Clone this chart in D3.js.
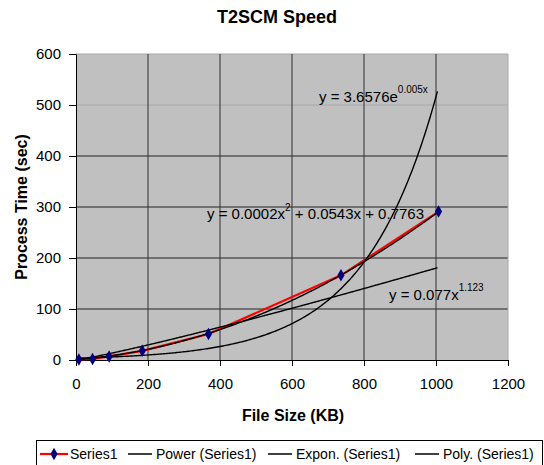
<!DOCTYPE html>
<html>
<head>
<meta charset="utf-8">
<script src="https://cdnjs.cloudflare.com/ajax/libs/d3/7.8.5/d3.min.js"></script>
<style>
	body { margin: 0; background: #fff; }
	text { font-family: "Liberation Sans", Arial, sans-serif; }
</style>
</head>
<body>
<div id="chart"></div>
<script>
// data
var fileSize = [8, 46, 92, 184, 368, 736, 1007];
var procTime = [1, 2, 7, 18, 51, 166, 291];
var xTicks = [0, 200, 400, 600, 800, 1000, 1200];
var yTicks = [0, 100, 200, 300, 400, 500, 600];
// trend line coefficients (unrounded estimates of the shown equations)
var powerCoef = [0.077, 1.123];
var exponCoef = [3.6576, 0.00495];
var polyCoef = [0.000232, 0.0543, 0.7763];

var width = 544, height = 465;
var svg = d3.select("#chart").append("svg")
	.attr("width", width)
	.attr("height", height);

var x = d3.scaleLinear().domain([0, 1200]).range([76, 508]);
var y = d3.scaleLinear().domain([0, 600]).range([360, 54]);

// plot area
svg.append("rect")
	.attr("x", x(0)).attr("y", y(600))
	.attr("width", x(1200) - x(0)).attr("height", y(0) - y(600))
	.attr("fill", "#c0c0c0");

// grid
svg.selectAll(".hgrid").data(yTicks.slice(1)).enter().append("line")
	.attr("x1", x(0)).attr("x2", x(1200))
	.attr("y1", function(d) { return y(d); }).attr("y2", function(d) { return y(d); })
	.attr("stroke", function(d) { return d >= 500 ? "#a8a8a8" : "#222"; })
	.attr("stroke-width", 1);
svg.selectAll(".vgrid").data(xTicks.slice(1)).enter().append("line")
	.attr("y1", y(0)).attr("y2", y(600))
	.attr("x1", function(d) { return x(d); }).attr("x2", function(d) { return x(d); })
	.attr("stroke", function(d) { return d == 1200 ? "#a8a8a8" : "#333"; })
	.attr("stroke-width", 1);

// axes
var xAxis = svg.append("g")
	.attr("transform", "translate(0," + y(0) + ")")
	.call(d3.axisBottom(x).tickValues(xTicks).tickFormat(d3.format("d")).tickSize(6).tickPadding(12));
var yAxis = svg.append("g")
	.attr("transform", "translate(" + x(0) + ",0)")
	.call(d3.axisLeft(y).tickValues(yTicks).tickFormat(d3.format("d")).tickSize(7).tickPadding(8));
[xAxis, yAxis].forEach(function(g) {
	g.selectAll("text").attr("font-size", "15px").attr("fill", "#000")
		.style("font-family", "Liberation Sans, Arial, sans-serif");
	g.selectAll("line, path").attr("stroke", "#000");
});

// trend lines
var samples = d3.range(fileSize[0], fileSize[fileSize.length - 1] + 1, 4);
var line = d3.line()
	.x(function(d) { return x(d[0]); })
	.y(function(d) { return y(d[1]); });
var trends = [
	samples.map(function(v) { return [v, powerCoef[0] * Math.pow(v, powerCoef[1])]; }),
	samples.map(function(v) { return [v, exponCoef[0] * Math.exp(exponCoef[1] * v)]; }),
	samples.map(function(v) { return [v, polyCoef[0] * v * v + polyCoef[1] * v + polyCoef[2]]; })
];

// series
var pts = fileSize.map(function(v, i) { return [v, procTime[i]]; });
svg.append("path")
	.attr("d", line(pts))
	.attr("fill", "none")
	.attr("stroke", "#ff0000")
	.attr("stroke-width", 2.2);

svg.selectAll(".trend").data(trends).enter().append("path")
	.attr("d", function(d) { return line(d); })
	.attr("fill", "none")
	.attr("stroke", "#000")
	.attr("stroke-width", 1.4);

svg.selectAll(".pt").data(pts).enter().append("path")
	.attr("d", d3.symbol().type(d3.symbolDiamond).size(45))
	.attr("transform", function(d) { return "translate(" + x(d[0]) + "," + y(d[1]) + ")"; })
	.attr("fill", "#000080");

// equations
var eq1 = svg.append("text").attr("x", 319).attr("y", 102).attr("font-size", "15px");
eq1.append("tspan").text("y = 3.6576e");
eq1.append("tspan").attr("dy", -9).attr("font-size", "10px").text("0.005x");

var eq2 = svg.append("text").attr("x", 207).attr("y", 219).attr("font-size", "15px");
eq2.append("tspan").text("y = 0.0002x");
eq2.append("tspan").attr("dy", -8).attr("font-size", "10px").text("2");
eq2.append("tspan").attr("dy", 8).text(" + 0.0543x + 0.7763");

var eq3 = svg.append("text").attr("x", 389).attr("y", 300).attr("font-size", "15px");
eq3.append("tspan").text("y = 0.077x");
eq3.append("tspan").attr("dy", -9).attr("font-size", "10px").text("1.123");

// titles
svg.append("text").attr("x", 277).attr("y", 23)
	.attr("text-anchor", "middle").attr("font-size", "18px").attr("font-weight", "bold")
	.text("T2SCM Speed");
svg.append("text").attr("x", 293).attr("y", 421)
	.attr("text-anchor", "middle").attr("font-size", "16px").attr("font-weight", "bold")
	.text("File Size (KB)");
svg.append("text")
	.attr("transform", "translate(27,207) rotate(-90)")
	.attr("text-anchor", "middle").attr("font-size", "16px").attr("font-weight", "bold")
	.text("Process Time (sec)");

// legend
svg.append("rect")
	.attr("x", 36.5).attr("y", 440.5).attr("width", 506).attr("height", 40)
	.attr("fill", "#fff").attr("stroke", "#000");
var legendItems = ["Series1", "Power (Series1)", "Expon. (Series1)", "Poly. (Series1)"];
var legendX = [40, 128, 268, 415];
var lg = svg.selectAll(".lg").data(legendItems).enter().append("g")
	.attr("transform", function(d, i) { return "translate(" + legendX[i] + ",454)"; });
lg.append("line")
	.attr("x1", 0).attr("x2", function(d, i) { return i == 0 ? 28 : 24; })
	.attr("stroke", function(d, i) { return i == 0 ? "#ff0000" : "#000"; })
	.attr("stroke-width", function(d, i) { return i == 0 ? 2.2 : 1.5; });
lg.filter(function(d, i) { return i == 0; }).append("path")
	.attr("d", d3.symbol().type(d3.symbolDiamond).size(45))
	.attr("transform", "translate(14,0)")
	.attr("fill", "#000080");
lg.append("text")
	.attr("x", function(d, i) { return i == 0 ? 30 : 28; })
	.attr("y", 5)
	.attr("font-size", "14px")
	.text(function(d) { return d; });
</script>
</body>
</html>
